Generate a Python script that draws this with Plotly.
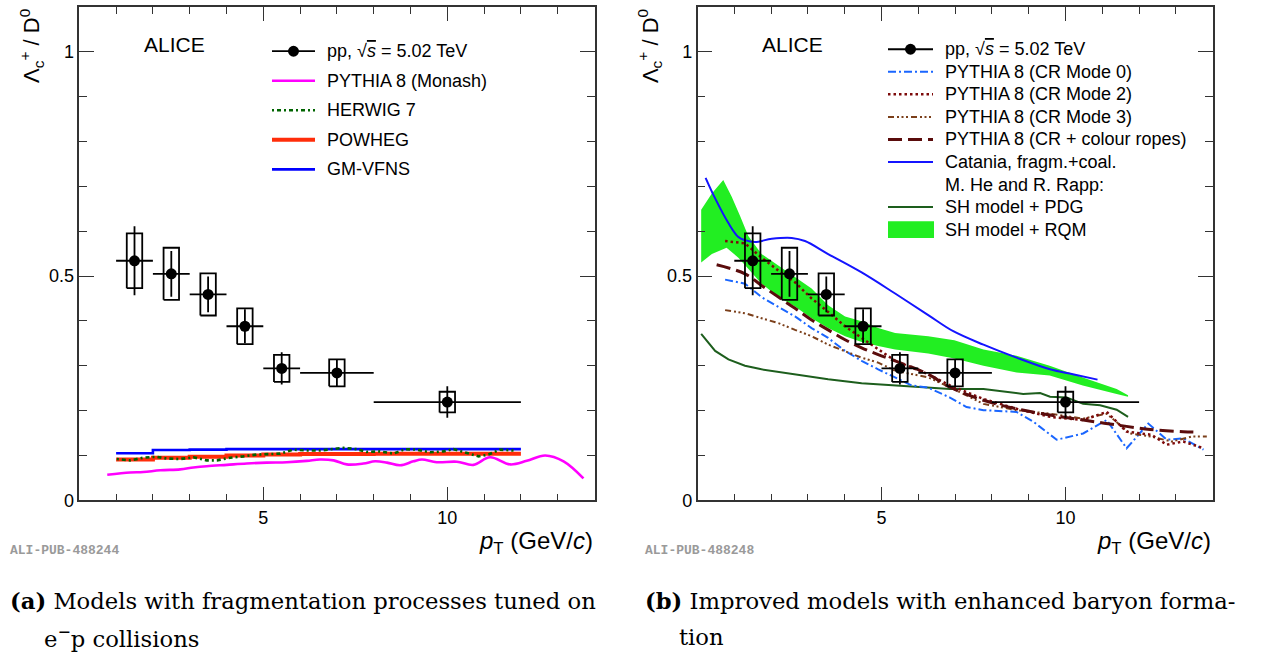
import plotly.graph_objects as go

W, H = 1273, 660

# ---------------- measurement: Lambda_c+/D0 in pp at 5.02 TeV ----------------
pt = [1.5, 2.5, 3.5, 4.5, 5.5, 7.0, 10.0]
pt_halfwidth = [0.5, 0.5, 0.5, 0.5, 0.5, 1.0, 2.0]
ratio = [0.534, 0.505, 0.459, 0.388, 0.294, 0.284, 0.219]
stat = [0.077, 0.051, 0.040, 0.038, 0.036, 0.029, 0.035]
syst = [0.061, 0.058, 0.047, 0.040, 0.030, 0.030, 0.023]

# ---------------- panel (a) models ----------------
monash_pt = [0.76, 1.38, 1.74, 2.20, 2.74, 3.10, 3.46, 4.01, 4.55, 5.09, 5.64, 6.18, 6.54, 6.91,
             7.27, 7.72, 8.04, 8.36, 8.72, 9.08, 9.31, 9.71, 10.26, 10.71, 11.16, 11.71, 12.16,
             12.66, 13.16, 13.70]
monash_ratio = [0.057, 0.062, 0.063, 0.067, 0.069, 0.073, 0.076, 0.079, 0.082, 0.084, 0.085, 0.088,
                0.091, 0.089, 0.080, 0.082, 0.087, 0.084, 0.078, 0.087, 0.091, 0.085, 0.086, 0.079,
                0.096, 0.080, 0.088, 0.100, 0.087, 0.049]

herwig_pt = [1.02, 1.38, 1.74, 2.10, 2.38, 2.74, 3.10, 3.46, 3.74, 4.10, 4.46, 4.82, 5.18, 5.46,
             5.82, 6.18, 6.54, 6.91, 7.18, 7.54, 7.81, 8.17, 8.54, 8.85, 9.17, 9.53, 9.89, 10.17,
             10.53, 10.85, 11.12, 11.43, 11.80]
herwig_ratio = [0.092, 0.089, 0.095, 0.097, 0.093, 0.092, 0.096, 0.089, 0.089, 0.095, 0.098, 0.102,
                0.103, 0.104, 0.113, 0.111, 0.111, 0.115, 0.117, 0.114, 0.108, 0.109, 0.104, 0.114,
                0.113, 0.107, 0.109, 0.114, 0.106, 0.098, 0.102, 0.113, 0.111]

bin_edges = [1, 2, 3, 4, 5, 6, 8, 12]
powheg_ratio = [0.091, 0.095, 0.097, 0.100, 0.102, 0.103, 0.104]
gmvfns_ratio = [0.105, 0.112, 0.113, 0.114, 0.114, 0.114, 0.114]

# ---------------- panel (b) models ----------------
cr0_pt = [0.75, 1.29, 1.74, 2.20, 2.65, 3.10, 3.55, 4.01, 4.46, 4.91, 5.37, 5.82, 6.27, 6.86,
          7.31, 7.77, 8.67, 9.13, 9.76, 10.48, 11.12, 11.66, 12.25, 12.75, 13.20, 13.75]
cr0_ratio = [0.492, 0.483, 0.453, 0.432, 0.410, 0.384, 0.362, 0.333, 0.311, 0.292, 0.274, 0.256,
             0.251, 0.229, 0.208, 0.201, 0.197, 0.175, 0.135, 0.149, 0.179, 0.116, 0.171, 0.135,
             0.138, 0.113]

cr2_pt = [0.75, 1.29, 1.74, 2.20, 2.65, 3.10, 3.55, 4.01, 4.46, 4.91, 5.37, 6.27, 6.86, 7.77,
          8.67, 9.58, 10.48, 11.12, 11.66, 12.34, 12.75, 13.20, 13.75]
cr2_ratio = [0.578, 0.573, 0.541, 0.512, 0.486, 0.450, 0.420, 0.388, 0.362, 0.336, 0.311, 0.281,
             0.256, 0.226, 0.204, 0.186, 0.179, 0.197, 0.153, 0.146, 0.124, 0.131, 0.116]

cr3_pt = [0.75, 1.29, 1.74, 2.20, 2.65, 3.10, 3.55, 4.01, 4.46, 4.91, 5.37, 6.27, 6.86, 7.77,
          8.67, 9.58, 10.48, 11.12, 11.75, 12.34, 12.88, 13.43, 13.84]
cr3_ratio = [0.424, 0.417, 0.406, 0.395, 0.380, 0.366, 0.347, 0.333, 0.318, 0.307, 0.289, 0.274,
             0.252, 0.215, 0.201, 0.193, 0.182, 0.193, 0.149, 0.142, 0.131, 0.142, 0.142]

ropes_pt = [0.52, 1.29, 1.74, 2.20, 2.65, 3.10, 3.55, 4.01, 4.46, 4.91, 5.37, 6.27, 6.86, 7.77,
            8.67, 9.58, 10.48, 11.39, 12.30, 13.20, 13.52]
ropes_ratio = [0.525, 0.505, 0.479, 0.453, 0.428, 0.402, 0.380, 0.358, 0.340, 0.325, 0.311, 0.281,
               0.252, 0.223, 0.204, 0.190, 0.179, 0.168, 0.158, 0.153, 0.152]

catania_pt = [0.22, 0.48, 0.84, 1.11, 1.29, 1.56, 2.02, 2.56, 2.92, 3.55, 4.46, 5.37, 6.27, 6.95,
              7.77, 8.67, 9.58, 10.20, 10.87]
catania_ratio = [0.719, 0.673, 0.618, 0.587, 0.580, 0.576, 0.583, 0.585, 0.578, 0.549, 0.508,
                 0.461, 0.413, 0.377, 0.347, 0.318, 0.292, 0.281, 0.269]

shpdg_pt = [0.10, 0.48, 0.84, 1.29, 1.74, 2.65, 3.55, 4.46, 5.37, 6.27, 6.86, 7.77, 8.40, 8.85,
            9.31, 9.58, 10.03, 10.48, 10.94, 11.39, 11.70]
shpdg_ratio = [0.371, 0.333, 0.314, 0.300, 0.292, 0.281, 0.270, 0.261, 0.256, 0.252, 0.248, 0.248,
               0.241, 0.237, 0.239, 0.231, 0.229, 0.215, 0.212, 0.202, 0.186]

# SH model + RQM uncertainty band: upper and lower edges
rqm_up_pt = [0.10, 0.39, 0.70, 0.93, 1.16, 1.38, 1.74, 2.20, 2.65, 3.10, 3.55, 4.01, 4.46, 4.91,
             5.37, 5.82, 6.27, 6.98, 7.77, 8.67, 9.57, 10.47, 11.39, 11.70]
rqm_up = [0.648, 0.684, 0.714, 0.677, 0.633, 0.589, 0.549, 0.523, 0.497, 0.472, 0.435, 0.410,
          0.399, 0.384, 0.373, 0.369, 0.366, 0.357, 0.336, 0.322, 0.300, 0.274, 0.248, 0.234]
rqm_lo_pt = [0.10, 0.39, 0.79, 1.11, 1.47, 1.74, 2.20, 2.65, 3.10, 3.55, 4.01, 4.46, 4.91, 5.37,
             6.27, 6.98, 7.77, 8.67, 9.57, 10.47, 11.39, 11.70]
rqm_lo = [0.530, 0.549, 0.563, 0.541, 0.508, 0.483, 0.453, 0.432, 0.406, 0.384, 0.366, 0.353,
          0.344, 0.336, 0.327, 0.316, 0.300, 0.285, 0.278, 0.256, 0.237, 0.231]

# ---------------- styles ----------------
SANS = "Liberation Sans"
FRAME = "#333333"
sty = {
    "monash": dict(color="#ff00ff", width=2.6),
    "herwig": dict(color="#006400", width=2.6, dash="2px,3px,4px,3px"),
    "powheg": dict(color="#ff2d0a", width=4),
    "gmvfns": dict(color="#0000ff", width=2.6),
    "cr0": dict(color="#1a66ff", width=2, dash="8px,3px,2px,3px"),
    "cr2": dict(color="#7d0a0a", width=2.5, dash="2.5px,3px"),
    "cr3": dict(color="#7b3f1a", width=2, dash="6px,3px,2px,2.5px,2px,2.5px,2px,3px"),
    "ropes": dict(color="#5a0c0c", width=3, dash="14px,6px"),
    "catania": dict(color="#1414ff", width=2),
    "shpdg": dict(color="#1d5e1d", width=2),
}
BAND = "#22ee22"
BOX_HW = 0.21  # half width of the systematic boxes in pT units

fig = go.Figure()


def add_line(x, y, key, xa, ya, shape="spline"):
    fig.add_trace(go.Scatter(x=x, y=y, mode="lines", line=dict(**sty[key], shape=shape),
                             xaxis=xa, yaxis=ya, showlegend=False, hoverinfo="skip"))


def add_step(edges, vals, key, xa, ya):
    fig.add_trace(go.Scatter(x=edges, y=list(vals) + [vals[-1]], mode="lines",
                             line=dict(**sty[key], shape="hv"),
                             xaxis=xa, yaxis=ya, showlegend=False, hoverinfo="skip"))


def add_data(xa, ya):
    bx, by = [], []
    for xc, yc, s in zip(pt, ratio, syst):
        bx += [xc - BOX_HW, xc + BOX_HW, xc + BOX_HW, xc - BOX_HW, xc - BOX_HW, None]
        by += [yc - s, yc - s, yc + s, yc + s, yc - s, None]
    fig.add_trace(go.Scatter(x=bx, y=by, mode="lines", line=dict(color="black", width=1.8),
                             xaxis=xa, yaxis=ya, showlegend=False, hoverinfo="skip"))
    fig.add_trace(go.Scatter(
        x=pt, y=ratio, mode="markers", marker=dict(color="black", size=11, symbol="circle"),
        error_x=dict(type="data", array=pt_halfwidth, width=0, thickness=1.8, color="black"),
        error_y=dict(type="data", array=stat, width=0, thickness=1.8, color="black"),
        xaxis=xa, yaxis=ya, showlegend=False))


# panel (a)
add_line(monash_pt, monash_ratio, "monash", "x", "y")
add_step(bin_edges, powheg_ratio, "powheg", "x", "y")
add_step(bin_edges, gmvfns_ratio, "gmvfns", "x", "y")
add_line(herwig_pt, herwig_ratio, "herwig", "x", "y", shape="linear")
add_data("x", "y")

# panel (b)
fig.add_trace(go.Scatter(x=rqm_up_pt + rqm_lo_pt[::-1], y=rqm_up + rqm_lo[::-1], mode="lines",
                         fill="toself", fillcolor=BAND, line=dict(width=0, color=BAND),
                         xaxis="x2", yaxis="y2", showlegend=False, hoverinfo="skip"))
add_line(shpdg_pt, shpdg_ratio, "shpdg", "x2", "y2", shape="linear")
add_line(catania_pt, catania_ratio, "catania", "x2", "y2")
add_line(cr0_pt, cr0_ratio, "cr0", "x2", "y2", shape="linear")
add_line(cr3_pt, cr3_ratio, "cr3", "x2", "y2", shape="linear")
add_line(cr2_pt, cr2_ratio, "cr2", "x2", "y2", shape="linear")
add_line(ropes_pt, ropes_ratio, "ropes", "x2", "y2")
add_data("x2", "y2")

# ---------------- axes ----------------
tick_common = dict(showline=True, linecolor=FRAME, linewidth=1.5, mirror="ticks",
                   ticks="inside", tickcolor=FRAME, tickwidth=1.2, showgrid=False,
                   zeroline=False, tickfont=dict(family=SANS, size=18, color="black"))
xcommon = dict(tick_common, range=[0, 14], tickvals=[5, 10], ticktext=["5", "10"], ticklen=14,
               minor=dict(dtick=1, tick0=0, ticks="inside", ticklen=7, tickwidth=1.2,
                          tickcolor=FRAME, showgrid=False))
ycommon = dict(tick_common, range=[0, 1.1], tickvals=[0, 0.5, 1], ticktext=["0", "0.5", "1"],
               ticklen=15, domain=[1 - 508 / H, 1 - 7 / H],
               minor=dict(dtick=0.1, tick0=0, ticks="inside", ticklen=8, tickwidth=1.2,
                          tickcolor=FRAME, showgrid=False))

fig.update_layout(
    width=W, height=H, autosize=False, margin=dict(l=0, r=0, t=0, b=0),
    paper_bgcolor="white", plot_bgcolor="white", showlegend=False,
    xaxis=dict(xcommon, domain=[79.3 / W, 594.5 / W], anchor="y"),
    yaxis=dict(ycommon, anchor="x"),
    xaxis2=dict(xcommon, domain=[697.5 / W, 1212.7 / W], anchor="y2"),
    yaxis2=dict(ycommon, anchor="x2"),
)


def px(x):
    return x / W


def py(y):
    return 1 - y / H


shapes, notes = [], []


def text(x, y, s, size=18, family=SANS, xanchor="left", yanchor="middle", color="black",
         angle=0):
    notes.append(dict(x=px(x), y=py(y), xref="paper", yref="paper", text=s, showarrow=False,
                      xanchor=xanchor, yanchor=yanchor, textangle=angle,
                      font=dict(family=family, size=size, color=color)))


# ---------------- per-panel decorations ----------------
PP_LABEL = 'pp, √<span style="text-decoration:overline"><i>s</i></span> = 5.02 TeV'

legend_a = [("pp", PP_LABEL), ("monash", "PYTHIA 8 (Monash)"), ("herwig", "HERWIG 7"),
            ("powheg", "POWHEG"), ("gmvfns", "GM-VFNS")]
legend_b = [("pp", PP_LABEL), ("cr0", "PYTHIA 8 (CR Mode 0)"), ("cr2", "PYTHIA 8 (CR Mode 2)"),
            ("cr3", "PYTHIA 8 (CR Mode 3)"), ("ropes", "PYTHIA 8 (CR + colour ropes)"),
            ("catania", "Catania, fragm.+coal."), (None, "M. He and R. Rapp:"),
            ("shpdg", "SH model + PDG"), ("band", "SH model + RQM")]


def draw_legend(entries, x0, x1, xtext, ytop, dy):
    for i, (key, label) in enumerate(entries):
        yc = ytop + i * dy
        if key == "pp":
            shapes.append(dict(type="line", xref="paper", yref="paper", x0=px(x0), x1=px(x1),
                               y0=py(yc), y1=py(yc), line=dict(color="black", width=1.8)))
            xm = (x0 + x1) / 2
            shapes.append(dict(type="circle", xref="paper", yref="paper",
                               x0=px(xm - 5.5), x1=px(xm + 5.5), y0=py(yc - 5.5), y1=py(yc + 5.5),
                               fillcolor="black", line=dict(color="black", width=0)))
        elif key == "band":
            shapes.append(dict(type="rect", xref="paper", yref="paper", x0=px(x0), x1=px(x1 + 1),
                               y0=py(yc - 8.5), y1=py(yc + 8.5), fillcolor=BAND,
                               line=dict(width=0)))
        elif key is not None:
            shapes.append(dict(type="line", xref="paper", yref="paper", x0=px(x0), x1=px(x1),
                               y0=py(yc), y1=py(yc), line=dict(sty[key])))
        text(xtext, yc, label)


draw_legend(legend_a, 272, 315, 325, 52, 30)
draw_legend(legend_b, 888, 933, 943, 50, 22.9)

YTITLE = "Λ<sub>c</sub><sup>+</sup> / D<sup>0</sup>"
XTITLE = "<i>p</i><sub>T</sub> (GeV/<i>c</i>)"
for off, tag, cap1, cap2 in [
    (0, "ALI-PUB-488244", "<b>(a)</b> Models with fragmentation processes tuned on",
     "e<sup>−</sup>p collisions"),
    (618.2, "ALI-PUB-488248", "<b>(b)</b> Improved models with enhanced baryon forma-", "tion"),
]:
    cap_off = off * 1.0275
    text(142 + off, 45, "ALICE", size=21)
    text(32 + off, 7, YTITLE, size=22, xanchor="center", yanchor="top", angle=-90)
    text(595 + off, 551, XTITLE, size=24, xanchor="right")
    text(8 + cap_off, 559, "<b>" + tag + "</b>", size=13, family="Liberation Mono",
         color="#9a9a9a")
    text(8 + cap_off, 610, cap1, size=22.7, family="DejaVu Serif")
    text(42 + cap_off, 647, cap2, size=22.7, family="DejaVu Serif")

fig.update_layout(shapes=shapes, annotations=notes)
fig.write_html("out.html")
